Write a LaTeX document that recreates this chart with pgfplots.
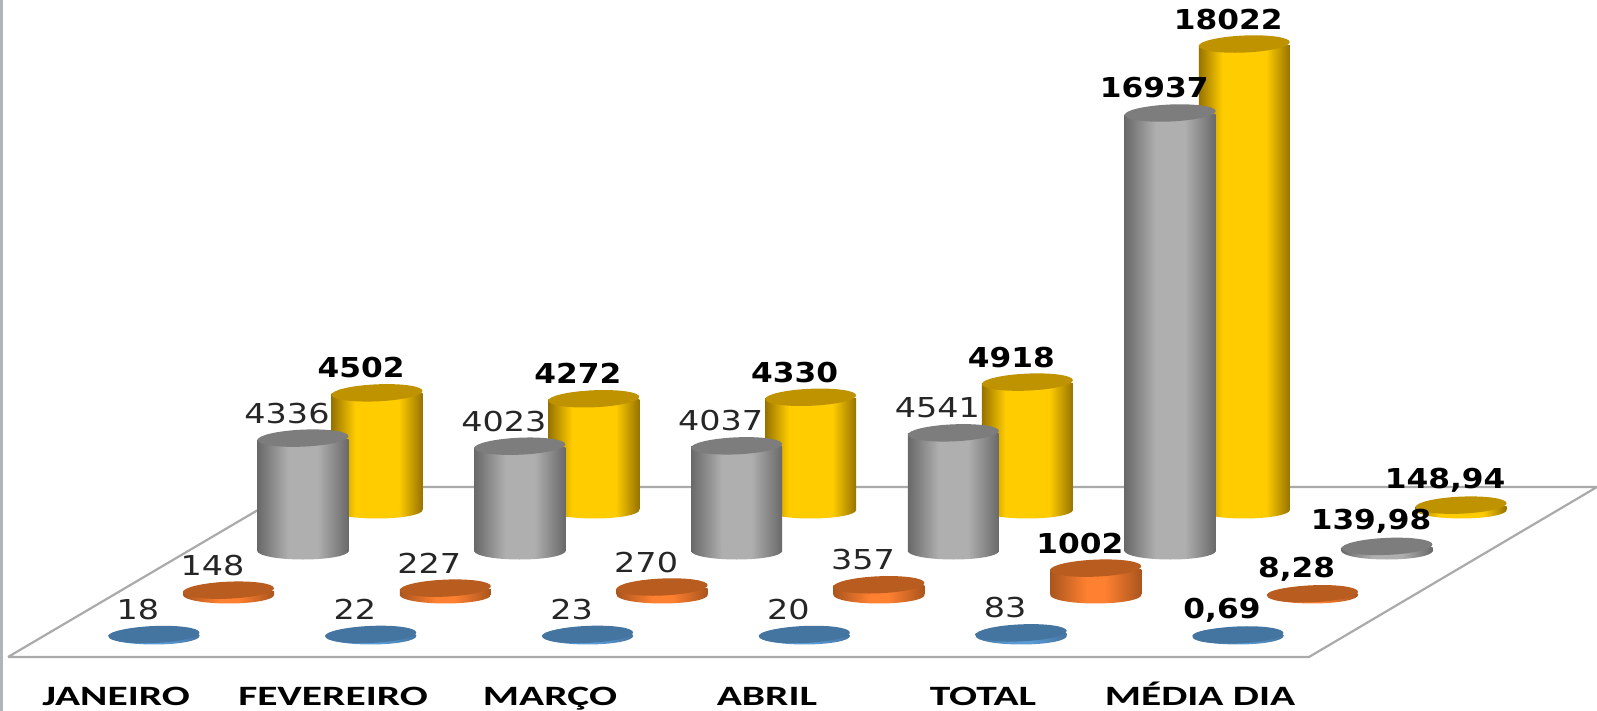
\documentclass[border=0pt]{standalone}
\usepackage{fontspec}
\setmainfont{DejaVu Sans}
\newfontfamily\catfont{Carlito}
\usepackage{graphicx}
\usepackage{pgfplots}
\pgfplotsset{compat=1.18}

\definecolor{floorline}{RGB}{170,170,170}
\definecolor{sideline}{RGB}{175,182,186}
\definecolor{Yedge}{RGB}{150,115,0}
\definecolor{Ymid}{RGB}{255,204,0}
\definecolor{Ytop}{RGB}{191,146,0}
\definecolor{Gedge}{RGB}{105,105,105}
\definecolor{Gmid}{RGB}{175,175,175}
\definecolor{Gtop}{RGB}{125,125,125}
\definecolor{Oedge}{RGB}{170,85,30}
\definecolor{Omid}{RGB}{255,128,48}
\definecolor{Otop}{RGB}{184,92,32}
\definecolor{Bedge}{RGB}{68,116,160}
\definecolor{Bmid}{RGB}{91,155,213}
\definecolor{Btop}{RGB}{68,116,160}

% horizontal gradients, visible part of the shading is 25bp..75bp
\pgfdeclarehorizontalshading{cylY}{100bp}{color(0bp)=(Yedge); color(25bp)=(Yedge); color(38bp)=(Ymid); color(62bp)=(Ymid); color(75bp)=(Yedge); color(100bp)=(Yedge)}
\pgfdeclarehorizontalshading{cylG}{100bp}{color(0bp)=(Gedge); color(25bp)=(Gedge); color(42bp)=(Gmid); color(58bp)=(Gmid); color(75bp)=(Gedge); color(100bp)=(Gedge)}
\pgfdeclarehorizontalshading{cylO}{100bp}{color(0bp)=(Oedge); color(25bp)=(Oedge); color(45bp)=(Omid); color(55bp)=(Omid); color(75bp)=(Oedge); color(100bp)=(Oedge)}
\pgfdeclarehorizontalshading{cylB}{100bp}{color(0bp)=(Bedge); color(25bp)=(Bedge); color(45bp)=(Bmid); color(55bp)=(Bmid); color(75bp)=(Bedge); color(100bp)=(Bedge)}

% tops are tilted and flat colour, bases are level and carry the gradient
\newcommand{\cylmarks}[1]{%
  \pgfdeclareplotmark{top#1}{\pgfsetfillcolor{#1top}\pgfpathellipse{\pgfpointorigin}{\pgfqpoint{22.73bp}{0.99bp}}{\pgfqpoint{-0.185bp}{4.25bp}}\pgfusepath{fill}}%
  \pgfdeclareplotmark{base#1}{\pgfpathellipse{\pgfpointorigin}{\pgfqpoint{22.75bp}{0bp}}{\pgfqpoint{0bp}{4.25bp}}\pgfshadepath{cyl#1}{0}\pgfusepath{discard}}%
}
\cylmarks{Y}\cylmarks{G}\cylmarks{O}\cylmarks{B}

% picture is 1597x711 px at 2 px = 1 bp
\pgfplotsset{
  cylaxis/.style={
    hide axis, scale only axis, width=798.5bp, height=355.5bp, clip=false,
    /pgf/number format/.cd, use comma, 1000 sep={}, assume math mode=true,
  },
}
\newcommand{\lab}{\fontsize{13.7bp}{15bp}\selectfont\color[RGB]{38,38,38}}
\newcommand{\labb}{\fontsize{13.7bp}{15bp}\selectfont\bfseries\color{black}}
\newcommand{\cat}[1]{\scalebox{1.48}[1]{#1}}

% series letter, category index, value, label font, label x stretch
\newcommand{\cyl}[5]{%
  \addplot[only marks, mark=base#1, yshift=-0.5bp] coordinates {(#2,0)};
  \addplot[ybar, bar width=45.5bp, bar shift=0pt, draw=none, shade, shading=cyl#1, yshift=-0.5bp] coordinates {(#2,#3)};
  \addplot[only marks, mark=top#1,
    nodes near coords={\scalebox{#5}[1]{#4\pgfmathprintnumber\pgfplotspointmeta}},
    nodes near coords style={anchor=center, inner sep=0pt, xshift=-8bp, yshift=12.5bp}]
    coordinates {(#2,#3)};
}

\begin{document}
\begin{tikzpicture}
\useasboundingbox (0,0) rectangle (798.5bp,355.5bp);

% floor, frame line and category names, x and y in pixels
\begin{axis}[
    scale only axis, width=798.5bp, height=355.5bp, clip=false,
    xmin=0, xmax=1597, ymin=0, ymax=711,
    axis line style={draw=none}, tick style={draw=none},
    ytick=\empty,
    xtick={116,333,550,767,983,1200},
    xticklabels={\cat{JANEIRO},\cat{FEVEREIRO},\cat{MARÇO},\cat{ABRIL},\cat{TOTAL},\cat{MÉDIA DIA}},
    xticklabel style={anchor=base, inner sep=0pt, yshift=3bp,
      font=\catfont\fontsize{14bp}{15bp}\selectfont\bfseries},
]
\addplot[draw=floorline, line width=1.1bp, fill=white] coordinates {(8,54) (1309,54) (1597,224) (297,224) (8,54)};
\addplot[draw=sideline, line width=1.5bp] coordinates {(1,0) (1,711)};
\end{axis}

% one axis per row of cylinders, each has its own zero line and x offset
\begin{axis}[cylaxis, xmin=-1.739, xmax=5.627, ymin=-7830, ymax=19729]
\cyl{Y}{0}{4502}{\labb}{1.14}
\cyl{Y}{1}{4272}{\labb}{1.14}
\cyl{Y}{2}{4330}{\labb}{1.14}
\cyl{Y}{3}{4918}{\labb}{1.14}
\cyl{Y}{4}{18022}{\labb}{1.14}
\cyl{Y}{5}{148.94}{\labb}{1.14}
\end{axis}

\begin{axis}[cylaxis, xmin=-1.3976, xmax=5.9686, ymin=-6240, ymax=21318]
\cyl{G}{0}{4336}{\lab}{1.22}
\cyl{G}{1}{4023}{\lab}{1.22}
\cyl{G}{2}{4037}{\lab}{1.22}
\cyl{G}{3}{4541}{\lab}{1.22}
\cyl{G}{4}{16937}{\labb}{1.14}
\cyl{G}{5}{139.98}{\labb}{1.14}
\end{axis}

\begin{axis}[cylaxis, xmin=-1.054, xmax=6.312, ymin=-4535, ymax=23023]
\cyl{O}{0}{148}{\lab}{1.22}
\cyl{O}{1}{227}{\lab}{1.22}
\cyl{O}{2}{270}{\lab}{1.22}
\cyl{O}{3}{357}{\lab}{1.22}
\cyl{O}{4}{1002}{\labb}{1.14}
\cyl{O}{5}{8.28}{\labb}{1.14}
\end{axis}

\begin{axis}[cylaxis, xmin=-0.7103, xmax=6.6559, ymin=-2946, ymax=24613]
\cyl{B}{0}{18}{\lab}{1.22}
\cyl{B}{1}{22}{\lab}{1.22}
\cyl{B}{2}{23}{\lab}{1.22}
\cyl{B}{3}{20}{\lab}{1.22}
\cyl{B}{4}{83}{\lab}{1.22}
\cyl{B}{5}{0.69}{\labb}{1.14}
\end{axis}
\end{tikzpicture}
\end{document}
